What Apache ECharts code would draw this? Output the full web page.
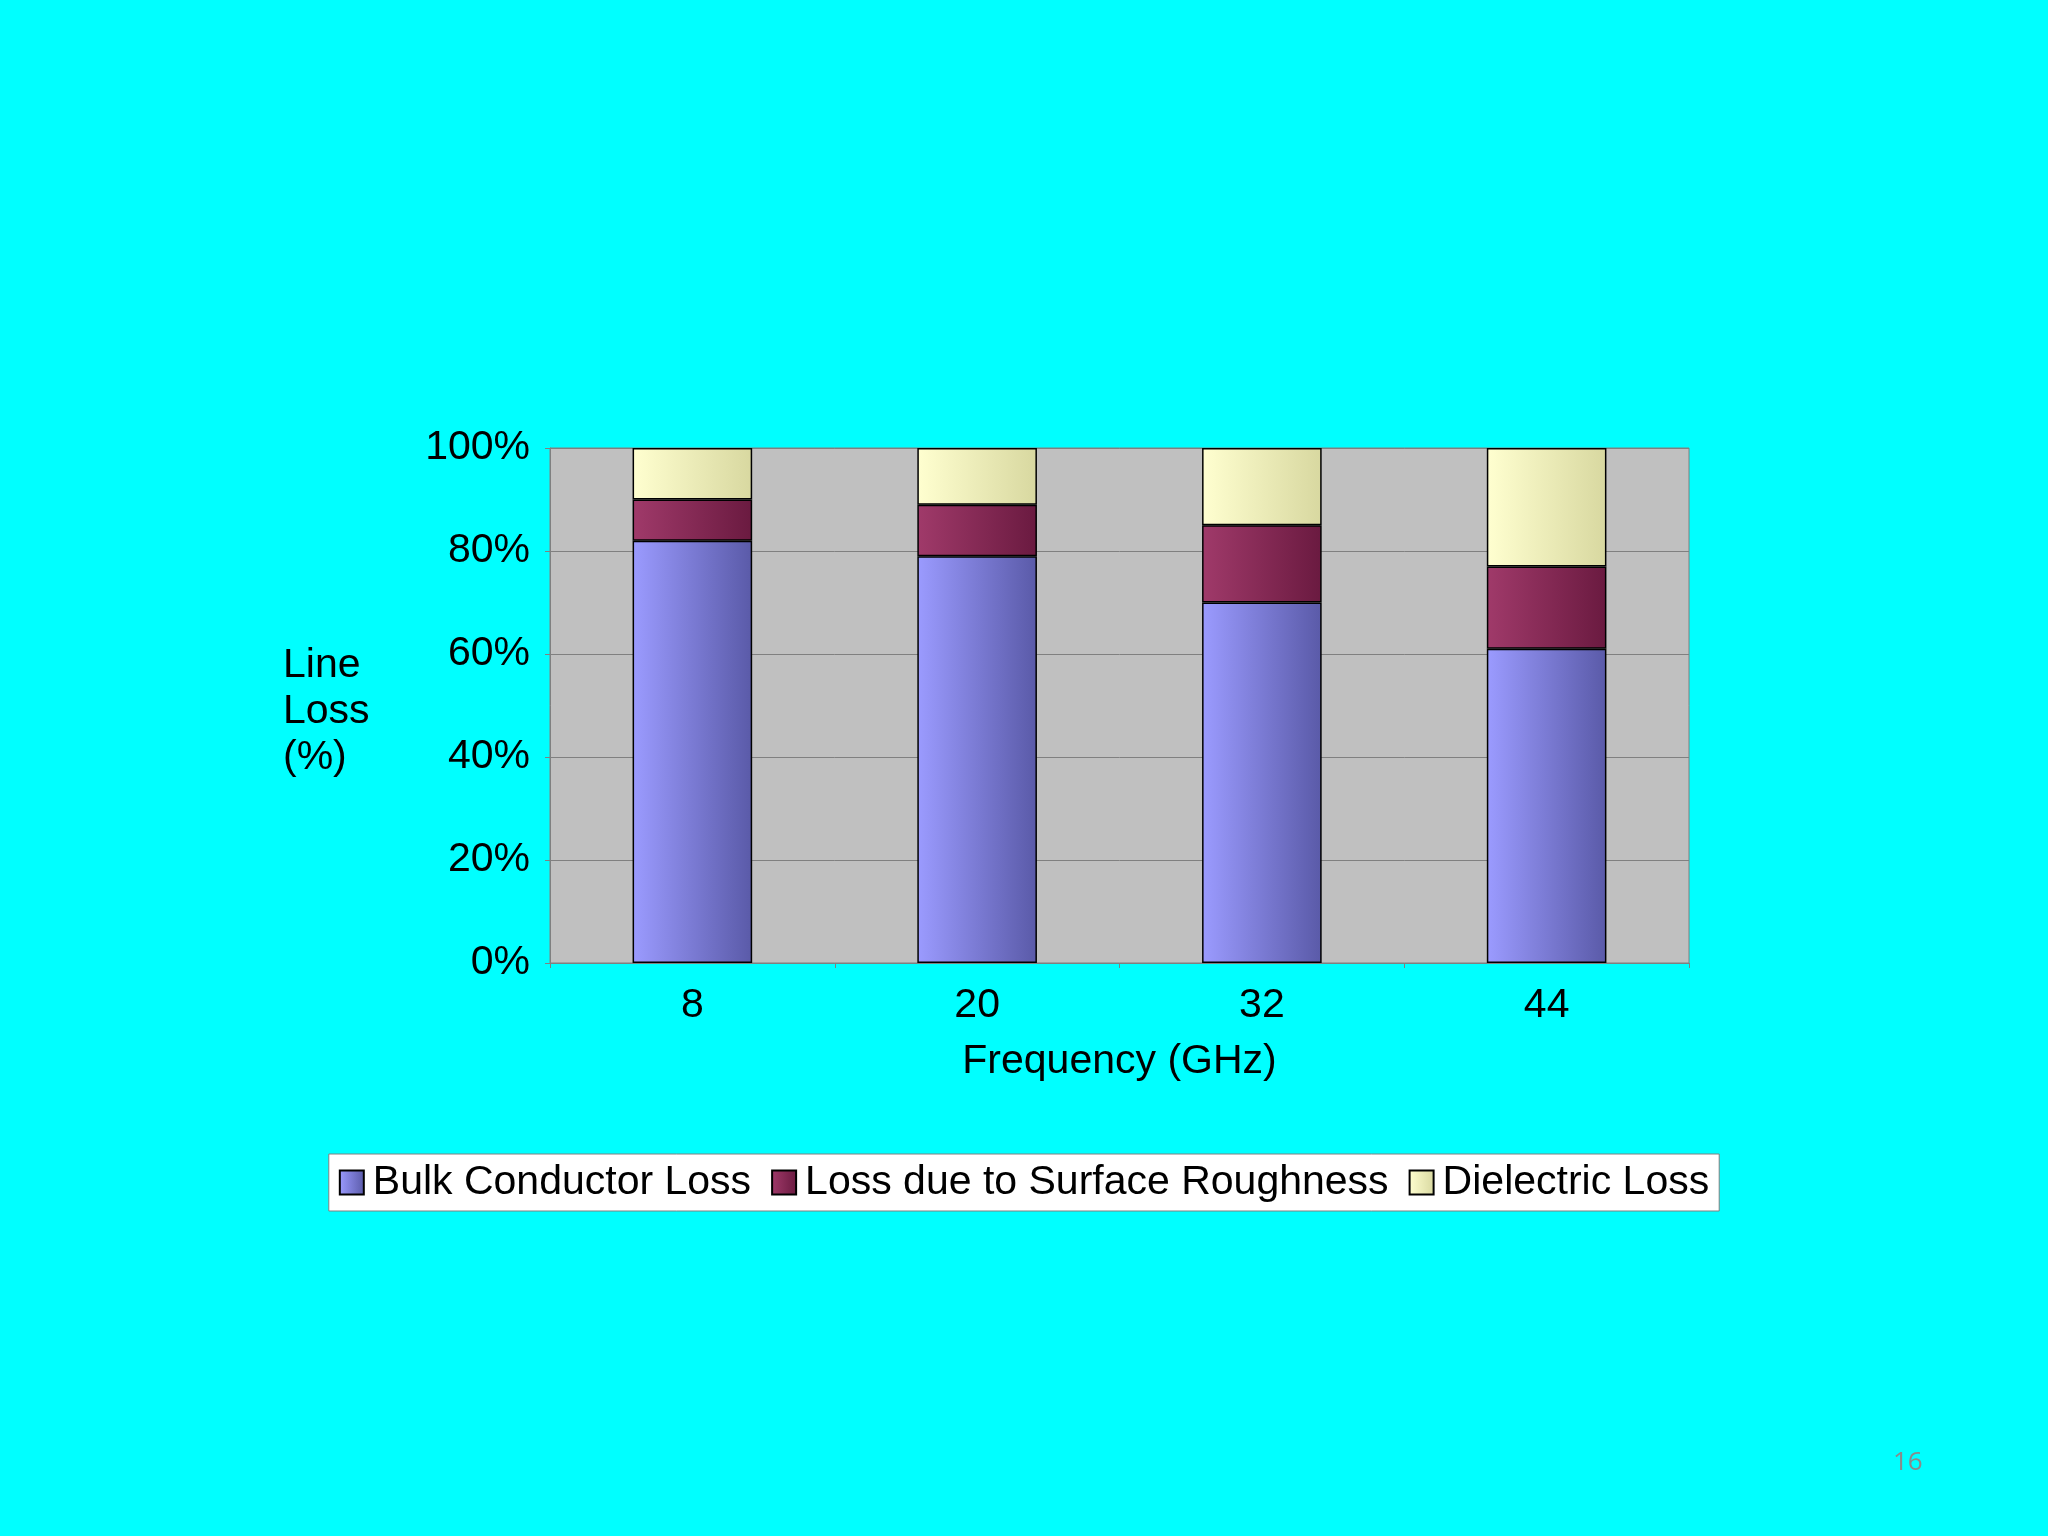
<!DOCTYPE html>
<html><head><meta charset="utf-8">
<script src="https://cdn.jsdelivr.net/npm/echarts@6/dist/echarts.min.js"></script>
<style>html,body{margin:0;padding:0;background:#00ffff}#c{width:2048px;height:1536px}</style>
</head><body><div id="c"></div>
<script>
const categories = ['8','20','32','44'];
const bulk = [82, 79, 70, 61];
const roughness = [8, 10, 15, 16];
const dielectric = [10, 11, 15, 23];
const yTicks = [0,20,40,60,80,100];

function grad(a,b){return {type:'linear',x:0,y:0,x2:1,y2:0,colorStops:[{offset:0,color:a},{offset:1,color:b}]};}
const font = 'Liberation Sans, Arial, sans-serif';
const chart = echarts.init(document.getElementById('c'));
chart.setOption({
  backgroundColor:'#00ffff',
  grid:{left:550,right:359,top:448,bottom:573,show:true,backgroundColor:'#c0c0c0',borderColor:'#808080',borderWidth:1},
  legend:{bottom:325,left:'center',itemWidth:24,itemHeight:24,itemGap:20,backgroundColor:'#ffffff',borderColor:'#808080',borderWidth:1,padding:[8,10],
    textStyle:{fontSize:41,fontFamily:font,color:'#000',padding:[0,0,0,4]},icon:'rect',
    data:['Bulk Conductor Loss','Loss due to Surface Roughness','Dielectric Loss']},
  xAxis:{type:'category',data:categories,name:'Frequency (GHz)',nameLocation:'middle',nameGap:78,
    nameTextStyle:{fontSize:41,fontFamily:font,color:'#000'},
    axisLabel:{fontSize:41,fontFamily:font,color:'#000',margin:22},
    axisLine:{lineStyle:{color:'#808080'}},axisTick:{show:true,lineStyle:{color:'#808080'}}},
  yAxis:{type:'value',min:0,max:100,interval:20,
    axisLabel:{fontSize:41,fontFamily:font,color:'#000',margin:20,formatter:v=>yTicks.includes(v)?v+'%':''},
    axisLine:{show:true,lineStyle:{color:'#808080'}},axisTick:{show:true,lineStyle:{color:'#808080'}},
    splitLine:{lineStyle:{color:'#808080'}}},
  graphic:[
    {type:'text',left:283,top:643,style:{text:'Line\nLoss\n(%)',fontSize:41,fontFamily:font,fill:'#000',align:'center',lineHeight:46,width:90}},
    {type:'text',left:1893,top:1450,style:{text:'16',fontSize:26,fontFamily:'Open Sans, sans-serif',fill:'#8a8a8a'}}
  ],
  series:[
    {name:'Bulk Conductor Loss',type:'bar',stack:'a',data:bulk,barWidth:'42%',
      itemStyle:{color:grad('#9b9bff','#5a5aa8'),borderColor:'#000',borderWidth:1.5}},
    {name:'Loss due to Surface Roughness',type:'bar',stack:'a',data:roughness,
      itemStyle:{color:grad('#a03a6a','#6a1a40'),borderColor:'#000',borderWidth:1.5}},
    {name:'Dielectric Loss',type:'bar',stack:'a',data:dielectric,
      itemStyle:{color:grad('#ffffd0','#d8d8a0'),borderColor:'#000',borderWidth:1.5}}
  ]
});
</script></body></html>
